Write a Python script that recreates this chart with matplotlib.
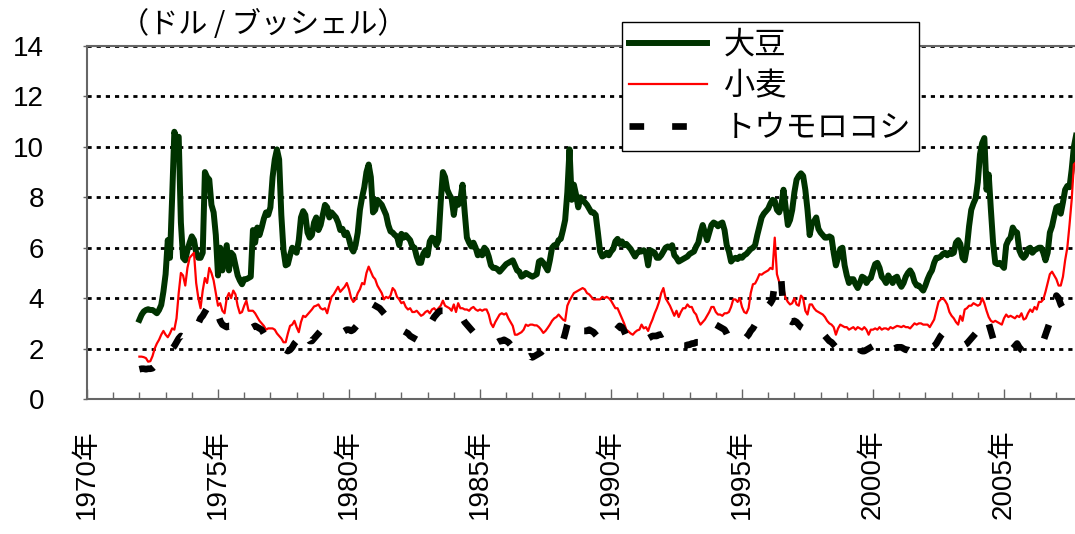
import numpy as np
import matplotlib
matplotlib.use('Agg')
import matplotlib.pyplot as plt
from matplotlib.ticker import FixedLocator, MultipleLocator

# ---------------- data (monthly, starting January 1972) ----------------
start_year = 1972

soybean = [
    3.14, 3.34, 3.47, 3.53, 3.56, 3.53, 3.53, 3.47, 3.40, 3.53, 3.73, 4.26,   # 1972
    4.95, 6.30, 5.60, 8.00, 10.6, 10.3, 10.4, 7.00, 5.60, 5.50, 5.90, 6.20,   # 1973
    6.45, 6.30, 5.80, 5.60, 5.60, 5.80, 9.00, 8.80, 8.70, 7.70, 7.40, 6.50,   # 1974
    4.90, 6.00, 5.10, 5.60, 6.10, 5.10, 5.80, 5.70, 5.30, 4.90, 4.70, 4.55,   # 1975
    4.75, 4.75, 4.80, 4.85, 6.70, 6.20, 6.80, 6.50, 6.80, 7.15, 7.40, 7.30,   # 1976
    7.60, 8.80, 9.50, 9.90, 9.50, 7.30, 5.90, 5.30, 5.35, 5.70, 6.00, 5.90,   # 1977
    5.80, 6.30, 7.20, 7.45, 7.30, 6.60, 6.40, 6.50, 7.00, 7.20, 6.70, 6.90,   # 1978
    7.30, 7.70, 7.60, 7.20, 7.40, 7.30, 7.20, 7.00, 6.70, 6.75, 6.50, 6.60,   # 1979
    6.35, 6.00, 5.85, 6.10, 6.60, 7.50, 8.00, 8.40, 9.00, 9.30, 8.80, 7.40,   # 1980
    7.50, 7.90, 7.80, 7.70, 7.50, 7.30, 6.90, 6.65, 6.60, 6.50, 6.45, 6.10,   # 1981
    6.55, 6.40, 6.50, 6.40, 6.30, 6.05, 6.00, 5.65, 5.40, 5.40, 5.75, 5.90,   # 1982
    5.70, 6.25, 6.40, 6.35, 6.10, 6.30, 7.80, 9.00, 8.80, 8.30, 8.10, 7.95,   # 1983
    7.30, 7.90, 7.70, 7.90, 8.50, 7.40, 6.40, 6.20, 6.05, 6.20, 6.00, 5.70,   # 1984
    5.85, 5.70, 6.00, 5.90, 5.65, 5.30, 5.20, 5.20, 5.15, 5.05, 5.15, 5.25,   # 1985
    5.35, 5.40, 5.45, 5.50, 5.30, 5.10, 5.05, 4.85, 4.90, 5.00, 4.95, 4.90,   # 1986
    4.85, 4.90, 4.95, 5.45, 5.50, 5.40, 5.25, 5.10, 5.50, 6.00, 6.10, 6.10,   # 1987
    6.30, 6.35, 6.70, 7.10, 8.20, 9.90, 7.90, 8.50, 8.10, 7.60, 8.00, 7.90,   # 1988
    7.80, 7.70, 7.55, 7.40, 7.40, 7.30, 6.60, 5.85, 5.65, 5.70, 5.80, 5.70,   # 1989
    5.85, 5.95, 6.25, 6.35, 6.15, 6.25, 6.10, 6.15, 6.05, 5.95, 5.80, 5.65,   # 1990
    5.80, 5.85, 5.85, 5.90, 5.80, 5.30, 5.90, 5.85, 5.80, 5.60, 5.60, 5.70,   # 1991
    5.85, 6.00, 6.05, 6.00, 6.10, 5.70, 5.60, 5.45, 5.50, 5.55, 5.60, 5.65,   # 1992
    5.75, 5.80, 5.85, 6.05, 6.20, 6.60, 6.90, 6.60, 6.30, 6.60, 6.90, 7.00,   # 1993
    6.95, 6.85, 6.95, 7.00, 6.70, 6.10, 5.85, 5.45, 5.55, 5.60, 5.55, 5.65,   # 1994
    5.60, 5.70, 5.75, 5.85, 5.95, 6.00, 6.10, 6.50, 6.85, 7.20, 7.35, 7.45,   # 1995
    7.55, 7.75, 7.90, 7.85, 7.50, 7.40, 7.65, 8.30, 7.60, 6.90, 7.10, 7.50,   # 1996
    8.20, 8.70, 8.85, 8.95, 8.85, 8.30, 7.50, 6.50, 6.95, 7.05, 7.20, 6.75,   # 1997
    6.60, 6.50, 6.40, 6.40, 6.45, 6.40, 5.80, 5.30, 5.60, 5.95, 6.00, 5.30,   # 1998
    4.90, 4.60, 4.75, 4.75, 4.55, 4.40, 4.60, 4.85, 4.80, 4.60, 4.75, 4.80,   # 1999
    5.10, 5.35, 5.40, 5.20, 4.85, 4.75, 4.60, 4.90, 4.75, 4.60, 4.80, 4.85,   # 2000
    4.60, 4.45, 4.60, 4.85, 5.00, 5.10, 4.95, 4.65, 4.50, 4.50, 4.40, 4.30,   # 2001
    4.50, 4.75, 4.95, 5.10, 5.40, 5.60, 5.60, 5.65, 5.75, 5.80, 5.70, 5.80,   # 2002
    5.75, 5.80, 6.20, 6.30, 6.15, 5.60, 5.50, 6.00, 6.85, 7.50, 7.75, 7.95,   # 2003
    8.60, 9.70, 10.15, 10.35, 8.30, 8.90, 7.50, 6.20, 5.40, 5.35, 5.40, 5.30,  # 2004
    5.20, 6.10, 6.30, 6.40, 6.80, 6.65, 6.60, 5.90, 5.70, 5.60, 5.70, 5.95,   # 2005
    6.00, 5.80, 5.90, 5.95, 6.00, 6.00, 5.80, 5.50, 5.80, 6.60, 6.85, 7.25,   # 2006
    7.60, 7.65, 7.35, 7.80, 8.30, 8.45, 8.40, 9.10, 10.0, 10.45,              # 2007
]

wheat = [
    1.68, 1.68, 1.66, 1.62, 1.48, 1.50, 1.70, 2.00, 2.20, 2.35, 2.55, 2.70,   # 1972
    2.55, 2.45, 2.60, 2.80, 2.75, 3.20, 4.20, 5.00, 4.90, 4.50, 5.20, 5.60,   # 1973
    5.70, 5.80, 4.60, 4.00, 3.60, 4.30, 4.80, 4.60, 5.20, 5.00, 4.70, 4.20,   # 1974
    3.70, 3.80, 3.50, 3.40, 4.00, 4.20, 4.00, 4.30, 4.15, 3.70, 3.40, 3.45,   # 1975
    3.70, 3.90, 3.50, 3.50, 3.50, 3.40, 3.25, 3.10, 3.00, 2.90, 2.75, 2.80,   # 1976
    2.80, 2.80, 2.75, 2.60, 2.50, 2.40, 2.25, 2.25, 2.60, 2.90, 2.95, 3.10,   # 1977
    2.85, 2.65, 3.05, 3.30, 3.25, 3.35, 3.45, 3.55, 3.67, 3.70, 3.75, 3.60,   # 1978
    3.55, 3.60, 3.40, 3.75, 4.05, 4.15, 4.30, 4.45, 4.25, 4.35, 4.45, 4.60,   # 1979
    4.35, 4.00, 3.85, 3.95, 4.20, 4.35, 4.60, 4.55, 5.00, 5.25, 5.05, 4.85,   # 1980
    4.75, 4.50, 4.35, 4.20, 3.95, 4.05, 4.00, 4.10, 4.40, 4.30, 4.05, 3.95,   # 1981
    3.80, 3.85, 3.65, 3.55, 3.60, 3.45, 3.45, 3.50, 3.40, 3.30, 3.35, 3.45,   # 1982
    3.50, 3.40, 3.55, 3.60, 3.50, 3.60, 3.70, 3.90, 3.70, 3.65, 3.60, 3.50,   # 1983
    3.75, 3.45, 3.80, 3.60, 3.60, 3.55, 3.55, 3.50, 3.60, 3.65, 3.55, 3.50,   # 1984
    3.55, 3.50, 3.55, 3.55, 3.35, 3.00, 2.85, 3.05, 3.20, 3.35, 3.40, 3.35,   # 1985
    3.40, 3.20, 3.05, 2.90, 2.55, 2.55, 2.60, 2.65, 2.75, 2.95, 2.90, 2.95,   # 1986
    2.95, 2.92, 2.92, 2.85, 2.75, 2.62, 2.70, 2.82, 2.95, 3.10, 3.20, 3.25,   # 1987
    3.35, 3.25, 3.15, 3.10, 3.70, 3.90, 4.05, 4.20, 4.25, 4.30, 4.35, 4.40,   # 1988
    4.35, 4.20, 4.15, 4.05, 3.95, 3.95, 3.95, 3.95, 4.05, 4.00, 4.05, 4.00,   # 1989
    3.90, 3.75, 3.60, 3.60, 3.40, 3.20, 3.00, 2.75, 2.68, 2.60, 2.55, 2.65,   # 1990
    2.72, 2.75, 2.95, 2.80, 2.85, 2.70, 2.95, 3.15, 3.40, 3.60, 3.85, 4.20,   # 1991
    4.40, 4.00, 3.85, 3.70, 3.50, 3.30, 3.50, 3.25, 3.45, 3.60, 3.60, 3.75,   # 1992
    3.65, 3.65, 3.45, 3.35, 3.10, 2.95, 3.05, 3.15, 3.30, 3.45, 3.65, 3.65,   # 1993
    3.45, 3.35, 3.35, 3.30, 3.40, 3.40, 3.45, 3.65, 3.95, 3.95, 3.85, 4.00,   # 1994
    3.65, 3.45, 3.40, 3.60, 4.20, 4.55, 4.58, 4.75, 4.95, 4.93, 5.00, 5.05,   # 1995
    5.10, 5.20, 5.15, 6.40, 4.95, 4.65, 4.45, 4.35, 4.00, 3.85, 3.75, 3.80,   # 1996
    4.00, 3.75, 3.70, 4.10, 4.00, 3.50, 3.35, 3.75, 3.75, 3.60, 3.50, 3.45,   # 1997
    3.40, 3.35, 3.25, 3.10, 3.00, 2.95, 2.85, 2.55, 2.80, 2.95, 2.90, 2.85,   # 1998
    2.85, 2.75, 2.80, 2.85, 2.75, 2.85, 2.80, 2.75, 2.85, 2.75, 2.55, 2.75,   # 1999
    2.75, 2.80, 2.75, 2.85, 2.75, 2.80, 2.80, 2.75, 2.85, 2.80, 2.85, 2.90,   # 2000
    2.88, 2.85, 2.90, 2.85, 2.85, 2.80, 2.90, 3.00, 2.95, 3.00, 3.00, 2.95,   # 2001
    2.95, 2.95, 2.85, 3.00, 3.15, 3.50, 3.85, 3.95, 4.00, 3.90, 3.75, 3.45,   # 2002
    3.30, 3.20, 3.05, 2.95, 3.30, 3.10, 3.55, 3.60, 3.70, 3.70, 3.80, 3.75,   # 2003
    3.70, 3.75, 4.00, 3.80, 3.50, 3.25, 3.10, 3.05, 3.10, 3.05, 3.00, 2.95,   # 2004
    3.20, 3.35, 3.25, 3.30, 3.25, 3.20, 3.30, 3.25, 3.40, 3.15, 3.20, 3.40,   # 2005
    3.55, 3.45, 3.65, 3.55, 3.85, 3.85, 3.95, 4.25, 4.60, 4.95, 5.05, 4.90,   # 2006
    4.75, 4.50, 4.50, 4.85, 5.50, 6.00, 6.90, 7.90, 9.30, 9.40,               # 2007
]

corn = [
    1.18, 1.20, 1.20, 1.18, 1.20, 1.20, 1.22, 1.30, 1.40, 1.50, 1.60, 1.65,   # 1972
    1.70, 1.80, 1.90, 2.00, 2.10, 2.25, 2.40, 2.50, 2.45, 2.55, 2.70, 2.85,   # 1973
    2.95, 3.05, 3.10, 3.00, 3.20, 3.30, 3.45, 3.60, 3.85, 3.80, 3.70, 3.55,   # 1974
    3.35, 3.10, 2.95, 2.90, 2.85, 2.90, 2.90, 2.85, 2.90, 2.80, 2.75, 2.75,   # 1975
    2.70, 2.65, 2.70, 2.80, 2.85, 2.90, 2.85, 2.80, 2.75, 2.60, 2.50, 2.45,   # 1976
    2.40, 2.35, 2.30, 2.25, 2.20, 2.10, 2.00, 1.95, 1.90, 1.95, 2.05, 2.20,   # 1977
    2.30, 2.45, 2.75, 2.70, 2.60, 2.45, 2.30, 2.30, 2.40, 2.50, 2.60, 2.70,   # 1978
    2.75, 2.80, 2.85, 2.85, 2.90, 2.85, 2.80, 2.75, 2.70, 2.65, 2.70, 2.75,   # 1979
    2.75, 2.70, 2.75, 2.85, 2.95, 3.10, 3.20, 3.35, 3.50, 3.60, 3.70, 3.75,   # 1980
    3.70, 3.65, 3.60, 3.50, 3.40, 3.30, 3.20, 3.05, 2.90, 2.85, 2.80, 2.80,   # 1981
    2.75, 2.70, 2.65, 2.60, 2.50, 2.45, 2.40, 2.35, 2.30, 2.35, 2.50, 2.65,   # 1982
    2.75, 2.90, 3.10, 3.25, 3.35, 3.45, 3.50, 3.50, 3.55, 3.45, 3.50, 3.45,   # 1983
    3.40, 3.35, 3.30, 3.35, 3.20, 3.05, 2.95, 2.85, 2.75, 2.65, 2.60, 2.60,   # 1984
    2.60, 2.55, 2.50, 2.45, 2.40, 2.35, 2.30, 2.30, 2.25, 2.30, 2.30, 2.35,   # 1985
    2.30, 2.25, 2.15, 1.85, 1.75, 1.70, 1.65, 1.60, 1.60, 1.60, 1.65, 1.70,   # 1986
    1.65, 1.70, 1.75, 1.80, 1.85, 1.95, 1.95, 1.90, 1.90, 1.95, 2.00, 2.05,   # 1987
    2.10, 2.15, 2.30, 2.60, 2.95, 3.20, 2.95, 2.85, 2.80, 2.75, 2.75, 2.70,   # 1988
    2.70, 2.70, 2.75, 2.70, 2.65, 2.55, 2.45, 2.40, 2.35, 2.35, 2.40, 2.35,   # 1989
    2.45, 2.60, 2.70, 2.80, 2.90, 2.85, 2.70, 2.50, 2.40, 2.35, 2.35, 2.30,   # 1990
    2.35, 2.40, 2.40, 2.45, 2.45, 2.40, 2.45, 2.50, 2.50, 2.50, 2.55, 2.55,   # 1991
    2.60, 2.65, 2.65, 2.60, 2.55, 2.50, 2.40, 2.25, 2.15, 2.10, 2.10, 2.15,   # 1992
    2.15, 2.20, 2.20, 2.25, 2.25, 2.20, 2.30, 2.40, 2.50, 2.60, 2.75, 2.90,   # 1993
    2.95, 2.90, 2.85, 2.80, 2.75, 2.60, 2.40, 2.25, 2.15, 2.15, 2.20, 2.25,   # 1994
    2.30, 2.35, 2.45, 2.55, 2.70, 2.80, 2.95, 3.10, 3.20, 3.45, 3.65, 3.75,   # 1995
    3.70, 3.80, 3.95, 4.60, 4.90, 5.00, 4.70, 3.50, 3.30, 3.20, 3.10, 3.05,   # 1996
    3.10, 3.05, 2.95, 2.85, 2.80, 2.75, 2.70, 2.65, 2.70, 2.75, 2.80, 2.75,   # 1997
    2.70, 2.60, 2.50, 2.40, 2.30, 2.25, 2.15, 2.05, 2.00, 2.05, 2.10, 2.15,   # 1998
    2.15, 2.15, 2.10, 2.10, 2.05, 2.05, 1.95, 1.90, 1.90, 1.95, 2.00, 2.05,   # 1999
    2.10, 2.10, 2.15, 2.20, 2.15, 2.05, 1.95, 1.85, 1.90, 1.95, 2.00, 2.05,   # 2000
    2.05, 2.05, 2.00, 1.95, 1.95, 1.90, 1.95, 2.00, 1.95, 1.95, 1.90, 1.95,   # 2001
    1.95, 2.00, 2.00, 2.05, 2.10, 2.20, 2.35, 2.50, 2.60, 2.55, 2.45, 2.35,   # 2002
    2.30, 2.30, 2.30, 2.25, 2.20, 2.15, 2.15, 2.20, 2.30, 2.40, 2.50, 2.60,   # 2003
    2.75, 2.90, 3.05, 3.20, 3.25, 3.00, 2.70, 2.40, 2.20, 2.05, 2.00, 1.95,   # 2004
    1.95, 1.95, 2.05, 2.05, 2.00, 2.10, 2.20, 2.05, 1.95, 1.90, 1.85, 1.90,   # 2005
    2.00, 2.10, 2.15, 2.20, 2.25, 2.30, 2.30, 2.55, 2.80, 3.05, 3.40, 3.70,   # 2006
    4.10, 4.00, 3.75, 3.60, 3.30, 3.35, 3.40, 3.45, 3.50, 3.55,               # 2007
]

series_names = ['大豆', '小麦', 'トウモロコシ']
series_colors = ['#003300', '#ff0000', '#000000']
y_ticks = [0, 2, 4, 6, 8, 10, 12, 14]
x_major_years = [1970, 1975, 1980, 1985, 1990, 1995, 2000, 2005]
x_tick_labels = ['1970年', '1975年', '1980年', '1985年', '1990年', '1995年', '2000年', '2005年']
unit_label = '（ドル / ブッシェル）'

# ---------------- figure ----------------
W, H = 1075, 534
fig = plt.figure(figsize=(W / 100, H / 100), dpi=100)
ax = fig.add_axes([87 / W, 1 - 399 / H, 988 / W, 353 / H])

t = start_year + np.arange(len(soybean)) / 12.0

for v in y_ticks[1:]:
    ax.axhline(v, color='black', linewidth=2.0, linestyle=(0, (1.5, 1.8)), zorder=1)

ax.plot(t, soybean, color=series_colors[0], linewidth=4.3, solid_joinstyle='round',
        label=series_names[0], zorder=3)
ax.plot(t, wheat, color=series_colors[1], linewidth=1.6, label=series_names[1], zorder=4)
ax.plot(t, corn, color=series_colors[2], linewidth=4.8, dashes=(2.2, 4.2),
        dash_capstyle='butt', label=series_names[2], zorder=5)

ax.set_xlim(1970, 1970 + 988 / 26.2)
ax.set_ylim(0, 14)

ax.set_yticks(y_ticks)
ax.set_yticklabels([str(v) for v in y_ticks], fontsize=20, family='Liberation Sans')
ax.tick_params(axis='y', direction='out', length=3, width=1, color='#666666', pad=28)

ax.xaxis.set_major_locator(FixedLocator(x_major_years))
ax.xaxis.set_minor_locator(MultipleLocator(1))
ax.set_xticklabels(x_tick_labels, rotation=90,
                   fontsize=20, family=['Liberation Sans', 'Noto Sans CJK JP'])
ax.tick_params(axis='x', which='major', direction='in', length=7, width=1,
               color='#666666', pad=22)
ax.tick_params(axis='x', which='minor', direction='in', length=5, width=1,
               color='#666666')

ax.spines['right'].set_visible(False)
for s in ['left', 'bottom', 'top']:
    ax.spines[s].set_color('#666666')
    ax.spines[s].set_linewidth(1.5)
    ax.spines[s].set_zorder(6)

fig.text(120 / W, 1 - 25 / H, unit_label, fontsize=21, family='Noto Sans CJK JP',
         ha='left', va='center')

leg = ax.legend(loc='upper left', bbox_to_anchor=(622 / W, 1 - 22 / H),
                bbox_transform=fig.transFigure,
                prop={'family': 'Noto Sans CJK JP', 'size': 22.5},
                frameon=True, fancybox=False, edgecolor='black', framealpha=1,
                borderpad=0.22, labelspacing=0.3, handlelength=2.5,
                handletextpad=0.55, borderaxespad=0)
leg.get_frame().set_linewidth(1.0)
leg.set_zorder(10)

fig.savefig('out.png', dpi=100)
